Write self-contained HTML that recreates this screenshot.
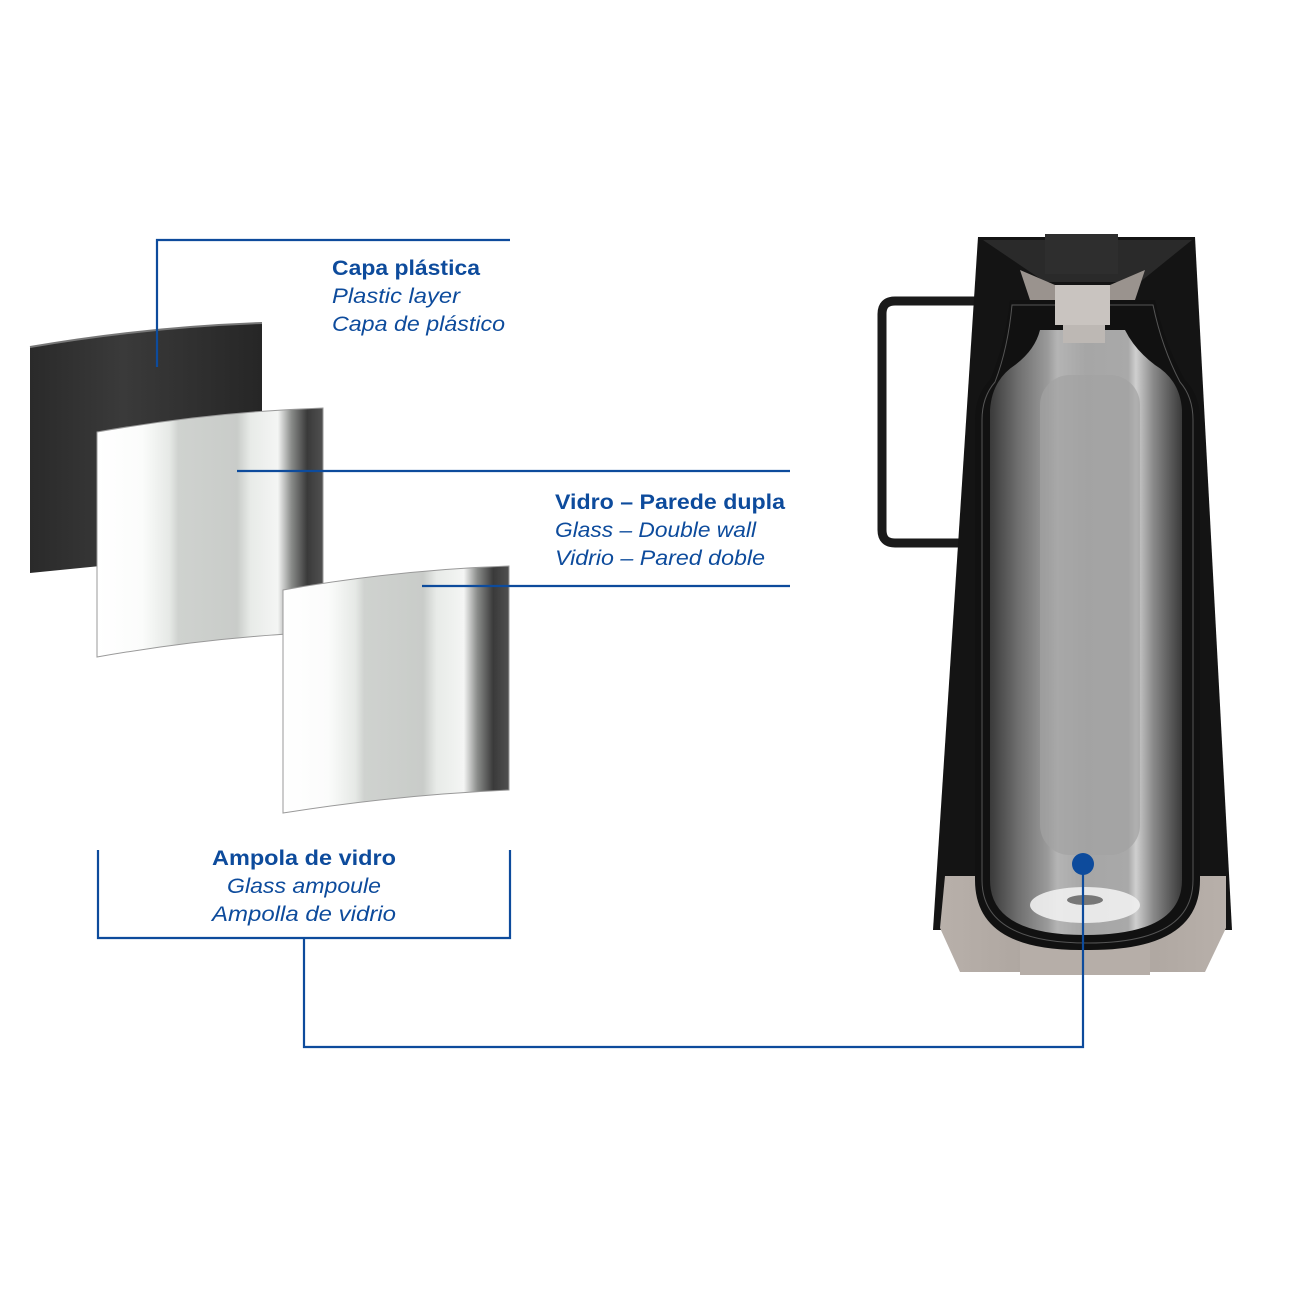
<!DOCTYPE html>
<html><head><meta charset="utf-8"><style>html,body{margin:0;padding:0;background:#fff}svg{display:block}</style></head>
<body>
<svg width="1300" height="1300" viewBox="0 0 1300 1300" xmlns="http://www.w3.org/2000/svg">
<defs>
<linearGradient id="mir" x1="0" x2="1" y1="0" y2="0">
<stop offset="0" stop-color="#ffffff"/><stop offset="0.2" stop-color="#fbfcfb"/>
<stop offset="0.32" stop-color="#e6e9e6"/><stop offset="0.36" stop-color="#cfd2cf"/>
<stop offset="0.62" stop-color="#c9ccc9"/><stop offset="0.68" stop-color="#e8ebe8"/>
<stop offset="0.8" stop-color="#f4f5f4"/><stop offset="0.86" stop-color="#8a8c8a"/>
<stop offset="0.93" stop-color="#3a3a3a"/><stop offset="1" stop-color="#505050"/>
</linearGradient>
<linearGradient id="dark" x1="0" x2="1"><stop offset="0" stop-color="#2a2a2a"/><stop offset="0.4" stop-color="#3a3a3a"/><stop offset="1" stop-color="#262626"/></linearGradient>
<linearGradient id="bot" x1="0" x2="1">
<stop offset="0" stop-color="#3a3a3a"/><stop offset="0.15" stop-color="#707070"/>
<stop offset="0.3" stop-color="#9a9a9a"/><stop offset="0.35" stop-color="#b4b4b4"/>
<stop offset="0.5" stop-color="#a6a6a6"/><stop offset="0.72" stop-color="#a9a9a9"/>
<stop offset="0.76" stop-color="#cfcfcf"/><stop offset="0.85" stop-color="#8a8a8a"/>
<stop offset="1" stop-color="#3a3a3a"/>
</linearGradient>
<linearGradient id="base" x1="0" x2="1"><stop offset="0" stop-color="#b8b0aa"/><stop offset="0.5" stop-color="#a8a09a"/><stop offset="1" stop-color="#b8b0aa"/></linearGradient>
</defs>

<!-- panels -->
<path d="M30 347 Q146 327 262 323 L262 550 L30 573 Z" fill="url(#dark)"/>
<path d="M30 347 Q146 327 262 323" stroke="#777" stroke-width="2" fill="none"/>
<path d="M97 432 Q210 412 323 408 L323 632 Q210 637 97 657 Z" fill="url(#mir)" stroke="#999" stroke-width="1"/>
<path d="M283 590 Q396 570 509 566 L509 790 Q396 795 283 813 Z" fill="url(#mir)" stroke="#999" stroke-width="1"/>

<!-- text -->
<g fill="#0d4b9c" font-family="Liberation Sans, sans-serif" font-size="21">
<text x="332" y="275" font-weight="bold" textLength="148" lengthAdjust="spacingAndGlyphs">Capa plástica</text>
<text x="332" y="303" font-style="italic" textLength="128" lengthAdjust="spacingAndGlyphs">Plastic layer</text>
<text x="332" y="331" font-style="italic" textLength="173" lengthAdjust="spacingAndGlyphs">Capa de plástico</text>
<text x="555" y="509" font-weight="bold" textLength="230" lengthAdjust="spacingAndGlyphs">Vidro – Parede dupla</text>
<text x="555" y="537" font-style="italic" textLength="201" lengthAdjust="spacingAndGlyphs">Glass – Double wall</text>
<text x="555" y="565" font-style="italic" textLength="210" lengthAdjust="spacingAndGlyphs">Vidrio – Pared doble</text>
<text x="212" y="865" font-weight="bold" textLength="184" lengthAdjust="spacingAndGlyphs">Ampola de vidro</text>
<text x="227" y="893" font-style="italic" textLength="154" lengthAdjust="spacingAndGlyphs">Glass ampoule</text>
<text x="212" y="921" font-style="italic" textLength="184" lengthAdjust="spacingAndGlyphs">Ampolla de vidrio</text>
</g>

<!-- thermos -->
<path d="M980 301 L895 301 Q882 301 882 314 L882 530 Q882 543 895 543 L965 543" fill="none" stroke="#1a1a1a" stroke-width="9"/>
<path d="M978 237 L1195 237 L1232 930 L933 930 Z" fill="#141414"/>
<path d="M983 240 L1045 282 L1140 282 L1192 240" fill="#2a2a2a"/>
<rect x="1045" y="234" width="73" height="40" fill="#2e2e2e"/>
<!-- base -->
<path d="M945 876 L1226 876 L1226 928 L1205 972 L960 972 L940 928 Z" fill="url(#base)"/>
<rect x="1020" y="935" width="130" height="40" fill="#b6aea8"/>
<!-- bottle outer black wall -->
<path d="M1010 300 L1155 300 Q1165 345 1185 380 Q1200 395 1200 420 L1200 880 Q1200 950 1090 950 L1080 950 Q975 950 975 880 L975 420 Q975 395 990 380 Q1005 345 1010 300 Z" fill="#111"/>
<path d="M1012 305 L1153 305 Q1162 348 1180 382 Q1193 397 1193 420 L1193 880 Q1193 943 1088 943 Q982 943 982 880 L982 420 Q982 397 995 382 Q1008 348 1012 305 Z" fill="none" stroke="#555" stroke-width="1"/>
<!-- silver body -->
<path d="M1040 330 L1125 330 Q1135 350 1155 365 Q1180 380 1182 410 L1182 880 Q1182 935 1085 935 Q990 935 990 880 L990 410 Q992 380 1015 365 Q1035 350 1040 330 Z" fill="url(#bot)"/>
<rect x="1040" y="375" width="100" height="480" rx="30" fill="#a3a3a3" opacity="0.7"/>
<ellipse cx="1085" cy="905" rx="55" ry="18" fill="#f0f0f0" opacity="0.9"/>
<ellipse cx="1085" cy="900" rx="18" ry="5" fill="#777"/>
<!-- neck / cap parts -->
<rect x="1055" y="285" width="55" height="40" fill="#c9c4c0"/>
<rect x="1063" y="325" width="42" height="18" fill="#bdb8b4"/>
<path d="M1020 270 L1055 285 L1055 300 L1030 300 Z" fill="#9a938e"/>
<path d="M1145 270 L1110 285 L1110 300 L1135 300 Z" fill="#9a938e"/>

<!-- connectors -->
<g stroke="#0d4b9c" stroke-width="2.2" fill="none">
<path d="M157 367 L157 240 L510 240"/>
<path d="M237 471 L790 471"/>
<path d="M422 586 L790 586"/>
<path d="M98 850 L98 938 L510 938 L510 850"/>
<path d="M304 938 L304 1047 L1083 1047 L1083 865"/>
</g>
<circle cx="1083" cy="864" r="11" fill="#0d4b9c"/>
</svg>
</body></html>
